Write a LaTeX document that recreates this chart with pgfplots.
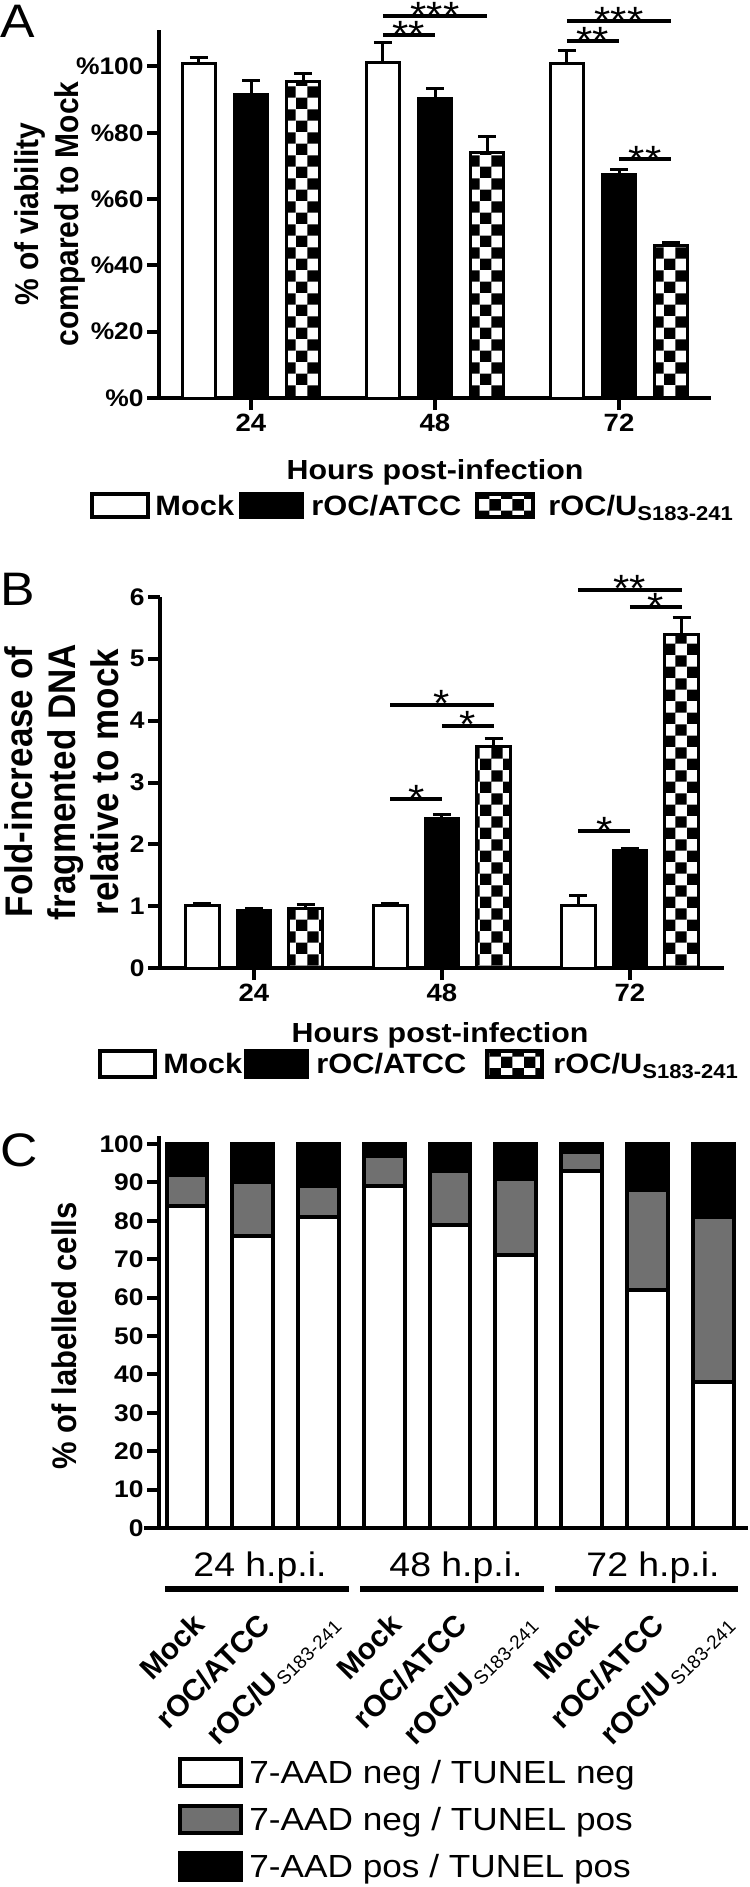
\documentclass[border=0pt]{standalone}
\usepackage{fontspec}
\setmainfont{Liberation Sans}[FakeStretch=1.1]
\newfontfamily\rotfont{Liberation Sans}
\usepackage{pgfplots}
\pgfplotsset{compat=1.18}
\usetikzlibrary{patterns}
\newcommand{\fs}[2]{\fontsize{#1}{#2}\selectfont}
\definecolor{cgray}{HTML}{707070}
\pgfplotsset{
  gp/.style={
    scale only axis, anchor=south west,
    axis x line*=bottom, axis y line*=left,
    axis line style={line width=2pt,-},
    tick style={line width=2pt,black},
    major tick length=6pt,
    tick align=outside,
    clip=false,
    tick label style={font=\bfseries\fs{12}{12}},
    yticklabel style={inner sep=1.5pt},
    xticklabel style={inner sep=2pt, font=\bfseries\fs{12.5}{12.5}},
  },
  eb/.style={error bars/.cd, y dir=plus, y explicit,
    error bar style={line width=1.5pt,black},
    error mark options={rotate=90, line width=1.5pt, mark size=4.5pt, black}},
}
\tikzset{star/.style={font=\fs{19}{19}, anchor=base, inner sep=0pt}}
\begin{document}
\begin{tikzpicture}
\begin{scope}[x=0.5pt,y=-0.5pt]
\path[use as bounding box] (0,0) rectangle (750,1887);
\end{scope}

% ---------------- Panel A ----------------
\begin{axis}[gp, at={(79.5pt,-199pt)}, width=276pt, height=184pt,
  xmin=0.5, xmax=3.5, ymin=0, ymax=111,
  xtick={1,2,3}, xticklabels={24,48,72},
  ytick={0,20,40,60,80,100}, yticklabels={\%0,\%20,\%40,\%60,\%80,\%100},
  ybar, bar width=0.18]
\addplot[bar shift=0pt, draw=black, line width=1.5pt, fill=white, eb]
  coordinates {(0.717,101.0) +- (0,1.6) (1.717,101.2) +- (0,6.1) (2.717,101.0) +- (0,3.8)};
\addplot[bar shift=0pt, draw=black, line width=1.5pt, fill=black, eb]
  coordinates {(1,91.4) +- (0,4.5) (2,90.3) +- (0,3.1) (3,67.3) +- (0,1.5)};
\addplot[bar shift=0pt, draw=black, line width=1.5pt, pattern=checkerboard, eb]
  coordinates {(1.283,95.6) +- (0,2.4) (2.283,74.1) +- (0,4.9) (3.283,46.0) +- (0,1.0)};
\draw[line width=2pt] (axis cs:0.435,0) -- (axis cs:0.5,0);
\draw[line width=2pt] (axis cs:1.717,109.5) -- (axis cs:2.0,109.5);
\node[star, yshift=-6.5pt] at (axis cs:1.858,109.5) {**};
\draw[line width=2pt] (axis cs:1.717,115.3) -- (axis cs:2.283,115.3);
\node[star, yshift=-6.5pt] at (axis cs:2.0,115.3) {***};
\draw[line width=2pt] (axis cs:2.717,107.7) -- (axis cs:3.0,107.7);
\node[star, yshift=-6.5pt] at (axis cs:2.858,107.7) {**};
\draw[line width=2pt] (axis cs:2.717,113.8) -- (axis cs:3.283,113.8);
\node[star, yshift=-6.5pt] at (axis cs:3.0,113.8) {***};
\draw[line width=2pt] (axis cs:3.0,72) -- (axis cs:3.283,72);
\node[star, yshift=-6.5pt] at (axis cs:3.142,72) {**};
\end{axis}

% ---------------- Panel B ----------------
\begin{axis}[gp, at={(80pt,-484pt)}, width=282pt, height=185.5pt,
  xmin=0.5, xmax=3.5, ymin=0, ymax=6,
  xtick={1,2,3}, xticklabels={24,48,72},
  ytick={0,1,2,3,4,5,6}, yticklabels={0,1,2,3,4,5,6},
  ybar, bar width=0.18]
\addplot[bar shift=0pt, draw=black, line width=1.5pt, fill=white, eb]
  coordinates {(0.726,1.01) +- (0,0.03) (1.726,1.01) +- (0,0.03) (2.726,1.01) +- (0,0.17)};
\addplot[bar shift=0pt, draw=black, line width=1.5pt, fill=black, eb]
  coordinates {(1,0.93) +- (0,0.025) (2,2.42) +- (0,0.07) (3,1.90) +- (0,0.04)};
\addplot[bar shift=0pt, draw=black, line width=1.5pt, pattern=checkerboard, eb]
  coordinates {(1.274,0.955) +- (0,0.065) (2.274,3.59) +- (0,0.12) (3.274,5.39) +- (0,0.28)};
\draw[line width=2pt] (axis cs:0.436,0) -- (axis cs:0.5,0);
\draw[line width=2pt] (axis cs:1.726,2.73) -- (axis cs:2.0,2.73);
\node[star, yshift=-6pt] at (axis cs:1.863,2.73) {*};
\draw[line width=2pt] (axis cs:1.726,4.26) -- (axis cs:2.274,4.26);
\node[star, yshift=-6pt] at (axis cs:2.0,4.26) {*};
\draw[line width=2pt] (axis cs:2.0,3.92) -- (axis cs:2.274,3.92);
\node[star, yshift=-6pt] at (axis cs:2.137,3.92) {*};
\draw[line width=2pt] (axis cs:2.726,2.21) -- (axis cs:3.0,2.21);
\node[star, yshift=-6pt] at (axis cs:2.863,2.21) {*};
\draw[line width=2pt] (axis cs:2.726,6.12) -- (axis cs:3.274,6.12);
\node[star, yshift=-6pt] at (axis cs:3.0,6.12) {**};
\draw[line width=2pt] (axis cs:3.0,5.84) -- (axis cs:3.274,5.84);
\node[star, yshift=-6.5pt] at (axis cs:3.137,5.84) {*};
\end{axis}

% ---------------- Panel C ----------------
\begin{axis}[gp, at={(79.5pt,-764pt)}, width=294.5pt, height=195.8pt,
  xmin=0.574, xmax=9.53, ymin=0, ymax=102,
  xtick=\empty,
  ytick={0,10,...,100}, yticklabels={0,10,20,30,40,50,60,70,80,90,100},
  ybar stacked, bar width=0.62]
\addplot[draw=black, line width=2pt, fill=white]
  coordinates {(1,84) (2,76) (3,81) (4,89) (5,79) (6,71) (7,93) (8,62) (9,38)};
\addplot[draw=black, line width=2pt, fill=cgray]
  coordinates {(1,8) (2,14) (3,8) (4,8) (5,14) (6,20) (7,5) (8,26) (9,43)};
\addplot[draw=black, line width=2pt, fill=black]
  coordinates {(1,8) (2,10) (3,11) (4,3) (5,7) (6,9) (7,2) (8,12) (9,19)};
\draw[line width=2pt] (axis cs:0.345,0) -- (axis cs:0.574,0);
\end{axis}

% ---------------- Texts and legends (pixel coordinates) ----------------
\begin{scope}[x=0.5pt,y=-0.5pt]
% panel letters
\node[anchor=base west, inner sep=0, font=\fs{23.5}{23.5}] at (0,37) {A};
\node[anchor=base west, inner sep=0, font=\fs{23.5}{23.5}] at (0,605) {B};
\node[anchor=base west, inner sep=0, font=\fs{23.5}{23.5}] at (0,1166) {C};
% y labels
\node[xscale=1.1, rotate=90, align=center, inner sep=0, font=\rotfont\bfseries\fs{15}{18}] at (50,214) {\% of viability\\compared to Mock};
\node[xscale=1.1, rotate=90, align=center, inner sep=0, font=\rotfont\bfseries\fs{17.5}{19.5}] at (62,782) {Fold-increase of\\fragmented DNA\\relative to mock};
\node[xscale=1.1, rotate=90, inner sep=0, font=\rotfont\bfseries\fs{15.5}{15.5}] at (64,1336) {\% of labelled cells};
% x titles
\node[anchor=base, inner sep=0, font=\bfseries\fs{13.8}{13.8}] at (435,479) {Hours post-infection};
\node[anchor=base, inner sep=0, font=\bfseries\fs{13.8}{13.8}] at (440,1042) {Hours post-infection};
% legend A
\begin{scope}[font=\bfseries\fs{14}{14}]
\draw[line width=2pt, fill=white] (92,494) rectangle (148,517);
\node[anchor=base west, inner sep=0] at (155,515) {Mock};
\draw[line width=2pt, fill=black] (241,494) rectangle (302,517);
\node[anchor=base west, inner sep=0] at (311,515) {rOC/ATCC};
\draw[line width=2pt, pattern=checkerboard] (477,494) rectangle (533,517);
\node[anchor=base west, inner sep=0] at (548,515) {rOC/U\raisebox{-2.5pt}{\fs{10}{10}S183-241}};
% legend B
\draw[line width=2pt, fill=white] (100,1051) rectangle (155,1077);
\node[anchor=base west, inner sep=0] at (163,1073) {Mock};
\draw[line width=2pt, fill=black] (246,1051) rectangle (307,1077);
\node[anchor=base west, inner sep=0] at (316,1073) {rOC/ATCC};
\draw[line width=2pt, pattern=checkerboard] (487,1051) rectangle (542,1077);
\node[anchor=base west, inner sep=0] at (553,1073) {rOC/U\raisebox{-2.5pt}{\fs{10}{10}S183-241}};
\end{scope}
% panel C group labels and brackets
\node[anchor=base, inner sep=0, font=\fs{17}{17}] at (260,1576) {24 h.p.i.};
\node[anchor=base, inner sep=0, font=\fs{17}{17}] at (456,1576) {48 h.p.i.};
\node[anchor=base, inner sep=0, font=\fs{17}{17}] at (653,1576) {72 h.p.i.};
\draw[line width=3pt] (165,1589) -- (349,1589);
\draw[line width=3pt] (360,1589) -- (544,1589);
\draw[line width=3pt] (555,1589) -- (738,1589);
% legend C
\draw[line width=2pt, fill=white] (180,1759) rectangle (241,1786);
\node[anchor=base west, inner sep=0, font=\fs{16}{16}] at (249,1783) {7-AAD neg / TUNEL neg};
\draw[line width=2pt, fill=cgray] (180,1806) rectangle (241,1833);
\node[anchor=base west, inner sep=0, font=\fs{16}{16}] at (249,1830) {7-AAD neg / TUNEL pos};
\draw[line width=2pt, fill=black] (180,1853) rectangle (241,1880);
\node[anchor=base west, inner sep=0, font=\fs{16}{16}] at (249,1877) {7-AAD pos / TUNEL pos};
\end{scope}
% rotated category labels (unflipped coordinates)
\begin{scope}[x=0.5pt,y=0.5pt,every node/.style={rotate=45, anchor=east, inner sep=0, font=\rotfont\bfseries\fs{15}{15}}]
\foreach \cx in {187,384,581} {
  \node at (\cx+12,-1619) {Mock};
  \node at (\cx+66+12,-1619) {rOC/ATCC};
  \node at (\cx+133+14,-1619) {rOC/U\kern1pt\raisebox{-2pt}{\rotfont\mdseries\fs{9.5}{9.5}S183-241}};
}
\end{scope}
\end{tikzpicture}
\end{document}
